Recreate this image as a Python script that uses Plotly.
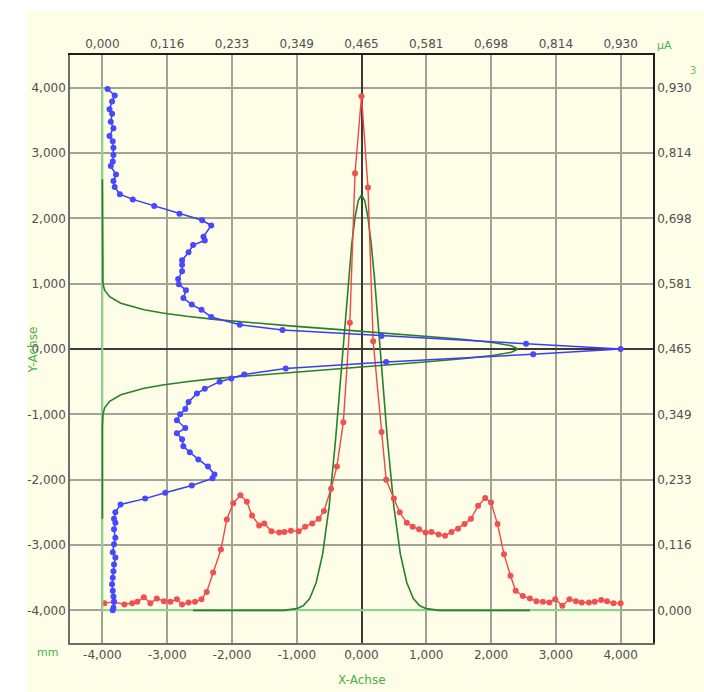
import plotly.graph_objects as go

# Horizontal beam profile: position along X (mm) vs. current (uA)
red_x_mm = [-3.97, -3.82, -3.66, -3.54, -3.46, -3.36, -3.26, -3.16, -3.05, -2.95,
            -2.85, -2.77, -2.67, -2.57, -2.47, -2.39, -2.29, -2.17, -2.08, -1.98,
            -1.87, -1.77, -1.69, -1.58, -1.50, -1.39, -1.27, -1.19, -1.09, -0.97,
            -0.87, -0.76, -0.66, -0.58, -0.47, -0.38, -0.28, -0.18, -0.10, 0.00,
            0.10, 0.18, 0.31, 0.38, 0.50, 0.59, 0.70, 0.79, 0.89, 0.99,
            1.08, 1.19, 1.29, 1.39, 1.49, 1.59, 1.69, 1.80, 1.91, 2.00,
            2.10, 2.20, 2.30, 2.38, 2.49, 2.60, 2.70, 2.80, 2.90, 2.99,
            3.10, 3.21, 3.31, 3.40, 3.51, 3.60, 3.70, 3.79, 3.89, 4.00]
red_uA = [0.0128, 0.0151, 0.0105, 0.0128, 0.0151, 0.0233, 0.0128, 0.0209, 0.0163, 0.0151,
          0.0198, 0.0105, 0.0140, 0.0151, 0.0198, 0.0326, 0.0674, 0.1081, 0.1616, 0.1907,
          0.2046, 0.1930, 0.1686, 0.1511, 0.1546, 0.1407, 0.1383, 0.1395, 0.1418, 0.1407,
          0.1488, 0.1546, 0.1628, 0.1767, 0.2162, 0.2558, 0.3348, 0.5115, 0.7777, 0.9149,
          0.7522, 0.4790, 0.3174, 0.2325, 0.1988, 0.1744, 0.1558, 0.1488, 0.1441, 0.1383,
          0.1395, 0.1349, 0.1325, 0.1395, 0.1453, 0.1535, 0.1628, 0.1860, 0.2000, 0.1918,
          0.1535, 0.1000, 0.0616, 0.0349, 0.0256, 0.0209, 0.0163, 0.0151, 0.0140, 0.0198,
          0.0081, 0.0198, 0.0163, 0.0140, 0.0140, 0.0151, 0.0186, 0.0163, 0.0128, 0.0128]

# Vertical beam profile: position along Y (mm) vs. current (uA)
blue_y_mm = [3.98, 3.88, 3.79, 3.67, 3.60, 3.48, 3.38, 3.26, 3.18, 3.08,
             2.97, 2.87, 2.80, 2.67, 2.57, 2.48, 2.37, 2.29, 2.19, 2.07,
             1.97, 1.89, 1.72, 1.66, 1.59, 1.48, 1.36, 1.29, 1.19, 1.07,
             0.99, 0.90, 0.78, 0.68, 0.60, 0.49, 0.37, 0.29, 0.20, 0.08,
             0.00, -0.08, -0.20, -0.30, -0.39, -0.45, -0.50, -0.61, -0.68, -0.81,
             -0.92, -1.00, -1.09, -1.21, -1.29, -1.38, -1.49, -1.58, -1.69, -1.80,
             -1.92, -1.98, -2.09, -2.20, -2.29, -2.38, -2.50, -2.60, -2.66, -2.76,
             -2.89, -2.99, -3.11, -3.19, -3.30, -3.40, -3.50, -3.60, -3.70, -3.79,
             -3.87, -3.96, -4.00]
blue_uA = [0.0093, 0.0221, 0.0174, 0.0128, 0.0174, 0.0151, 0.0198, 0.0128, 0.0186, 0.0198,
           0.0198, 0.0186, 0.0151, 0.0244, 0.0198, 0.0221, 0.0314, 0.0546, 0.0930, 0.1383,
           0.1790, 0.1953, 0.1814, 0.1837, 0.1628, 0.1546, 0.1430, 0.1430, 0.1430, 0.1360,
           0.1372, 0.1500, 0.1453, 0.1604, 0.1779, 0.1953, 0.2465, 0.3232, 0.5010, 0.7603,
           0.9300, 0.7731, 0.5092, 0.3290, 0.2546, 0.2313, 0.2104, 0.1837, 0.1697, 0.1546,
           0.1488, 0.1395, 0.1337, 0.1488, 0.1337, 0.1430, 0.1453, 0.1569, 0.1721, 0.1895,
           0.2011, 0.1976, 0.1604, 0.1128, 0.0767, 0.0326, 0.0233, 0.0209, 0.0233, 0.0209,
           0.0233, 0.0209, 0.0186, 0.0233, 0.0209, 0.0198, 0.0186, 0.0174, 0.0186, 0.0198,
           0.0209, 0.0198, 0.0186]

# Fitted profiles (X direction and Y direction)
fit_x_mm = [-2.6, -1.2, -1.0, -0.9, -0.8, -0.7, -0.6, -0.5, -0.4, -0.35, -0.3, -0.25,
            -0.2, -0.15, -0.1, -0.05, 0.0, 0.05, 0.1, 0.15, 0.2, 0.25, 0.3, 0.35,
            0.4, 0.5, 0.6, 0.7, 0.8, 0.9, 1.0, 1.2, 2.6]
fit_x_uA = [0.0, 0.0, 0.003, 0.008, 0.021, 0.049, 0.100, 0.184, 0.304, 0.374, 0.448, 0.522,
            0.592, 0.652, 0.699, 0.729, 0.739, 0.729, 0.699, 0.652, 0.592, 0.522, 0.448, 0.374,
            0.304, 0.184, 0.100, 0.049, 0.021, 0.008, 0.003, 0.0, 0.0]
fit_y_mm = [2.6, 1.2, 1.0, 0.9, 0.8, 0.7, 0.6, 0.55, 0.5, 0.45, 0.4, 0.35, 0.3, 0.25,
            0.2, 0.15, 0.1, 0.05, 0.0, -0.05, -0.1, -0.15, -0.2, -0.25, -0.3, -0.35,
            -0.4, -0.45, -0.5, -0.55, -0.6, -0.7, -0.8, -0.9, -1.0, -1.2, -2.6]
fit_y_uA = [0.0, 0.0, 0.001, 0.004, 0.013, 0.033, 0.075, 0.108, 0.151, 0.205, 0.269, 0.342,
            0.420, 0.501, 0.578, 0.646, 0.700, 0.734, 0.746, 0.734, 0.700, 0.646, 0.578, 0.501,
            0.420, 0.342, 0.269, 0.205, 0.151, 0.108, 0.075, 0.033, 0.013, 0.004, 0.001, 0.0, 0.0]

# Zero-current baselines across the scanned range
baseline_mm = [-4.0, 4.0]
baseline_uA = [0.0, 0.0]

# Axis ticks
mm_ticks = [-4, -3, -2, -1, 0, 1, 2, 3, 4]
mm_labels = ["-4,000", "-3,000", "-2,000", "-1,000", "0,000", "1,000", "2,000", "3,000", "4,000"]
uA_ticks = [0.0, 0.11625, 0.2325, 0.34875, 0.465, 0.58125, 0.6975, 0.81375, 0.93]
uA_labels = ["0,000", "0,116", "0,233", "0,349", "0,465", "0,581", "0,698", "0,814", "0,930"]

MM_RANGE = [-4.5, 4.5]
UA_RANGE = [-0.058125, 0.988125]

CREAM = "#fdfde8"
GRID = "#a2a296"
TICK_FONT = dict(family="DejaVu Sans", size=12, color="#505050")
GREEN_TXT = "#4caf4c"
FIT_GREEN = "#2a7f2a"

fig = go.Figure()

# empty trace so the primary x/y subplot carries the grid
fig.add_trace(go.Scatter(x=[], y=[], xaxis="x", yaxis="y", showlegend=False))

# light green zero baselines
fig.add_trace(go.Scatter(x=baseline_mm, y=baseline_uA, xaxis="x", yaxis="y2",
                         mode="lines", line=dict(color="#8fd88f", width=2),
                         hoverinfo="skip", showlegend=False))
fig.add_trace(go.Scatter(x=baseline_uA, y=baseline_mm, xaxis="x2", yaxis="y",
                         mode="lines", line=dict(color="#8fd88f", width=2),
                         hoverinfo="skip", showlegend=False))

# fitted curves
fig.add_trace(go.Scatter(x=fit_x_mm, y=fit_x_uA, xaxis="x", yaxis="y2",
                         mode="lines", line=dict(color=FIT_GREEN, width=1.6),
                         showlegend=False))
fig.add_trace(go.Scatter(x=fit_y_uA, y=fit_y_mm, xaxis="x2", yaxis="y",
                         mode="lines", line=dict(color=FIT_GREEN, width=1.6),
                         showlegend=False))

# measured vertical profile
fig.add_trace(go.Scatter(x=blue_uA, y=blue_y_mm, xaxis="x2", yaxis="y",
                         mode="lines+markers",
                         line=dict(color="#3c3cf0", width=1.5),
                         marker=dict(color="#4848ff", size=6, symbol="circle",
                                     line=dict(width=0)),
                         showlegend=False))

# measured horizontal profile
fig.add_trace(go.Scatter(x=red_x_mm, y=red_uA, xaxis="x", yaxis="y2",
                         mode="lines+markers",
                         line=dict(color="#f04848", width=1.4),
                         marker=dict(color="#f05050", size=6, symbol="circle",
                                     line=dict(width=0)),
                         showlegend=False))

fig.update_layout(
    width=704, height=692,
    margin=dict(l=70, r=46, t=55, b=49),
    paper_bgcolor="white",
    plot_bgcolor=CREAM,
    showlegend=False,
    xaxis=dict(range=MM_RANGE, tickvals=mm_ticks, ticktext=mm_labels,
               anchor="y", showgrid=True, gridcolor=GRID, gridwidth=1.6,
               zeroline=True, zerolinecolor="#3a3a3a", zerolinewidth=1.6,
               showline=True, linecolor="#6e6e66", linewidth=1.5,
               ticks="", tickfont=TICK_FONT, side="bottom"),
    xaxis2=dict(range=UA_RANGE, tickvals=uA_ticks, ticktext=uA_labels,
                anchor="y", overlaying="x", side="top", showgrid=False, zeroline=False,
                showline=True, linecolor="#1e1e1e", linewidth=1.6,
                ticks="", tickfont=TICK_FONT),
    yaxis=dict(range=MM_RANGE, tickvals=mm_ticks, ticktext=mm_labels,
               anchor="x", showgrid=True, gridcolor=GRID, gridwidth=1.6,
               zeroline=True, zerolinecolor="#3a3a3a", zerolinewidth=1.6,
               showline=True, linecolor="#6e6e66", linewidth=1.5,
               ticks="", tickfont=TICK_FONT, side="left"),
    yaxis2=dict(range=UA_RANGE, tickvals=uA_ticks, ticktext=uA_labels,
                anchor="x", overlaying="y", side="right", showgrid=False, zeroline=False,
                showline=True, linecolor="#1e1e1e", linewidth=1.6,
                ticks="", tickfont=TICK_FONT),
    shapes=[dict(type="rect", xref="paper", yref="paper",
                 x0=-0.0731, x1=1.2, y0=-0.2, y1=1.0765,
                 fillcolor=CREAM, line=dict(width=0), layer="below")],
    annotations=[
        dict(text="mm", xref="paper", yref="paper", x=-0.039, y=-0.017,
             xanchor="center", yanchor="middle", showarrow=False,
             font=dict(family="DejaVu Sans", size=11, color=GREEN_TXT)),
        dict(text="\u00b5A", xref="paper", yref="paper", x=1.020, y=1.017,
             xanchor="center", yanchor="middle", showarrow=False,
             font=dict(family="DejaVu Sans", size=11, color=GREEN_TXT)),
        dict(text="X-Achse", xref="paper", yref="paper", x=0.5017, y=-0.063,
             xanchor="center", yanchor="middle", showarrow=False,
             font=dict(family="DejaVu Sans", size=12, color=GREEN_TXT)),
        dict(text="Y-Achse", xref="paper", yref="paper", x=-0.063, y=0.498,
             xanchor="center", yanchor="middle", textangle=-90, showarrow=False,
             font=dict(family="DejaVu Sans", size=12, color=GREEN_TXT)),
        dict(text="3", xref="paper", yref="paper", x=1.0765, y=0.974,
             xanchor="right", yanchor="middle", showarrow=False,
             font=dict(family="DejaVu Sans", size=10, color="#66cc44")),
    ],
)

fig.write_html("out.html")
